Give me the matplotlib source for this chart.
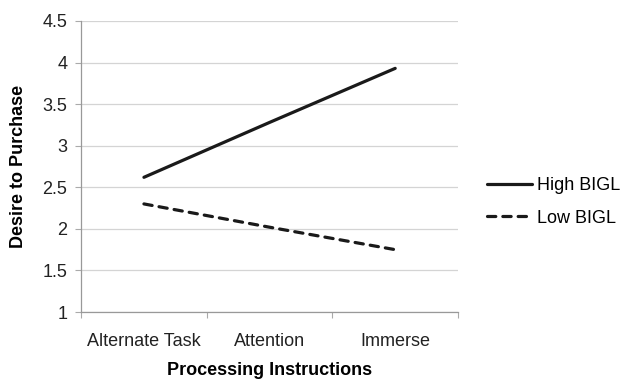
import matplotlib
matplotlib.use("Agg")
import matplotlib.pyplot as plt
from matplotlib.ticker import FixedLocator

categories = ["Alternate Task", "Attention", "Immerse"]
high_bigl = [2.62, 3.28, 3.93]
low_bigl = [2.30, 2.02, 1.75]
y_ticks = [1, 1.5, 2, 2.5, 3, 3.5, 4, 4.5]
y_labels = ["1", "1.5", "2", "2.5", "3", "3.5", "4", "4.5"]

plt.rcParams['font.family'] = ['Liberation Sans', 'DejaVu Sans']

fig = plt.figure(figsize=(6.24, 3.81), dpi=100)
ax = fig.add_axes([0.130, 0.181, 0.604, 0.764])

x = list(range(len(categories)))
ax.plot(x, high_bigl, color="#1a1a1a", lw=2.3, solid_capstyle="round", label="High BIGL")
ax.plot(x, low_bigl, color="#1a1a1a", lw=2.3, ls=(0, (2.6, 2.2)), dash_capstyle="round", label="Low BIGL")

ax.set_xlim(-0.5, 2.5)
ax.set_ylim(1, 4.5)
ax.set_yticks(y_ticks)
ax.set_yticklabels(y_labels)
ax.set_xticks(x)
ax.set_xticklabels(categories)
ax.tick_params(axis="x", which="major", length=0, pad=15, labelsize=13, colors="#222222")
ax.xaxis.set_minor_locator(FixedLocator([-0.5, 0.5, 1.5, 2.5]))
ax.tick_params(axis="x", which="minor", length=4, color="#aaaaaa", width=0.8)
ax.tick_params(axis="y", length=4, color="#aaaaaa", width=0.8, labelsize=13, colors="#222222", pad=6)

ax.grid(axis="y", color="#d4d4d4", lw=0.9)
ax.set_axisbelow(True)
for s in ["top", "right"]:
    ax.spines[s].set_visible(False)
for s in ["left", "bottom"]:
    ax.spines[s].set_color("#999999")
    ax.spines[s].set_linewidth(0.9)

ax.set_ylabel("Desire to Purchase", fontsize=13, fontweight="bold", labelpad=11)
ax.set_xlabel("Processing Instructions", fontsize=13, fontweight="bold", labelpad=9)

leg = ax.legend(loc="center left", bbox_to_anchor=(1.034, 0.378), frameon=False,
                fontsize=13, handlelength=2.5, handletextpad=0.25, labelspacing=0.85)

fig.savefig("out.png", dpi=100)
